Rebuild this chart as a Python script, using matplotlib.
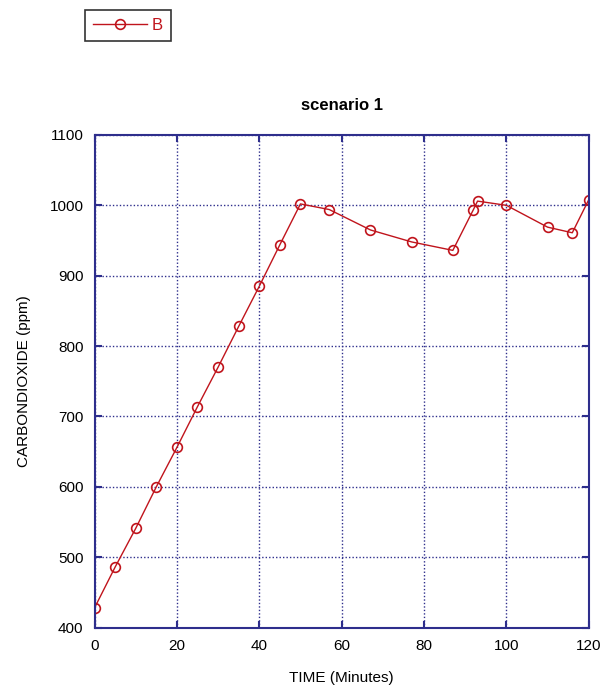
import matplotlib
matplotlib.use("Agg")
import matplotlib.pyplot as plt

plt.rcParams['font.family'] = ['Liberation Sans', 'DejaVu Sans']

# data
time_min = [0, 5, 10, 15, 20, 25, 30, 35, 40, 45, 50, 57, 67, 77, 87, 92, 93, 100, 110, 116, 120]
co2_ppm = [428, 486, 541, 600, 656, 714, 770, 828, 885, 944, 1002, 994, 965, 948, 936, 994, 1006, 1000, 969, 961, 1008]
x_ticks = [0, 20, 40, 60, 80, 100, 120]
y_ticks = [400, 500, 600, 700, 800, 900, 1000, 1100]

axis_col = '#2e2e8c'
red = '#c0141c'

fig = plt.figure(figsize=(6.02, 6.92), dpi=100)
ax = fig.add_axes([0.157, 0.093, 0.821, 0.712])

line, = ax.plot(time_min, co2_ppm, color=red, linewidth=1, marker='o', markersize=7,
                markerfacecolor='none', markeredgecolor=red, markeredgewidth=1.2, label='B')

ax.set_xlim(0, 120)
ax.set_ylim(400, 1100)
ax.set_xticks(x_ticks)
ax.set_yticks(y_ticks)
ax.grid(True, color=axis_col, linestyle=(0, (1, 1.5)), linewidth=1)
for s in ax.spines.values():
    s.set_color(axis_col)
    s.set_linewidth(1.5)
ax.tick_params(direction='in', top=True, right=True, color=axis_col, length=5,
               width=1.5, labelsize=11, pad=8)

ax.set_title('scenario 1', fontsize=12, fontweight='bold', pad=18)
ax.set_xlabel('TIME (Minutes)', fontsize=11, labelpad=13)
ax.set_ylabel('CARBONDIOXIDE (ppm)', fontsize=11, labelpad=13)

leg = fig.legend(handles=[line], loc='upper left', bbox_to_anchor=(0.141, 0.986),
                 borderaxespad=0, fancybox=False, edgecolor='black', fontsize=12,
                 handlelength=3.2, borderpad=0.5, handletextpad=0.3)
leg.get_frame().set_linewidth(1.2)
for t in leg.get_texts():
    t.set_color(red)

fig.savefig('out.png', dpi=100)
